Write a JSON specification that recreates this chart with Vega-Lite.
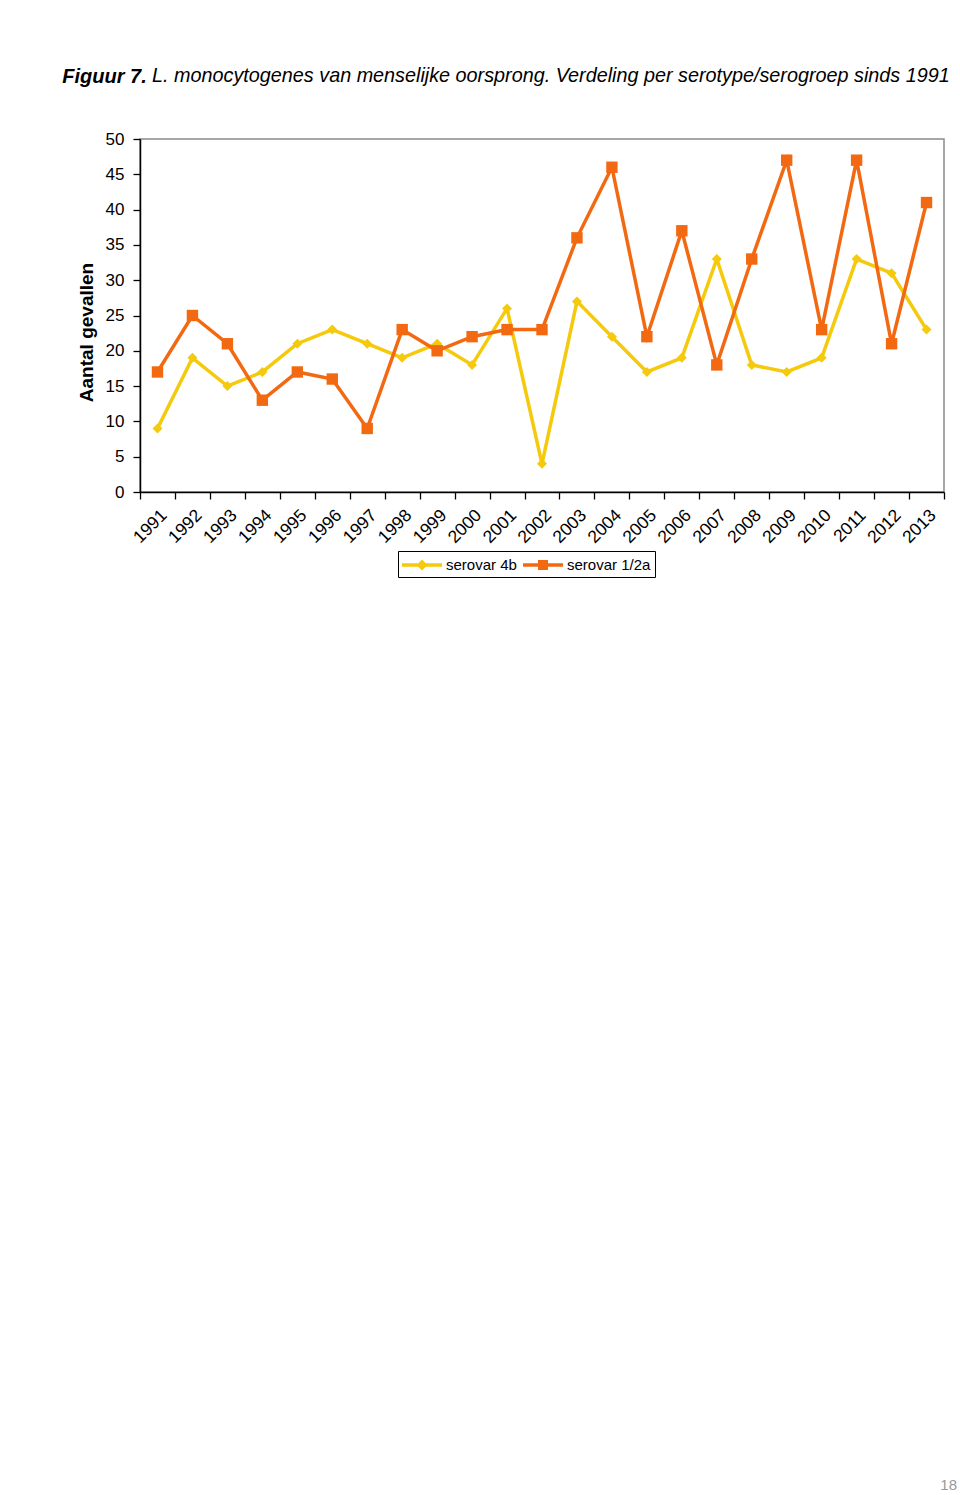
{
  "$schema": "https://vega.github.io/schema/vega-lite/v6.json",
  "background": "white",
  "padding": {"left": 62, "top": 65, "right": 0, "bottom": 0},
  "config": {
    "font": "Liberation Sans",
    "view": {"stroke": null}
  },
  "title": {
    "text": "Figuur 7.",
    "anchor": "start",
    "font": "Liberation Sans",
    "fontSize": 20,
    "fontStyle": "italic",
    "fontWeight": "bold",
    "color": "black",
    "dx": -14,
    "offset": -22
  },
  "resolve": {"scale": {"color": "independent"}, "legend": {"color": "independent"}},
  "spacing": 10,
  "vconcat": [
    {
      "width": 804,
      "height": 353,
      "view": {"stroke": "#8a8a8a", "strokeWidth": 1.5},
      "title": {
        "text": "L. monocytogenes van menselijke oorsprong. Verdeling per serotype/serogroep sinds 1991",
        "anchor": "start",
        "font": "Liberation Sans",
        "fontSize": 19.8,
        "fontStyle": "italic",
        "fontWeight": "normal",
        "color": "black",
        "dx": 75,
        "offset": 44
      },
      "data": {
        "values": [
          {"year": "1991", "series": "serovar 4b", "value": 9},
          {"year": "1992", "series": "serovar 4b", "value": 19},
          {"year": "1993", "series": "serovar 4b", "value": 15},
          {"year": "1994", "series": "serovar 4b", "value": 17},
          {"year": "1995", "series": "serovar 4b", "value": 21},
          {"year": "1996", "series": "serovar 4b", "value": 23},
          {"year": "1997", "series": "serovar 4b", "value": 21},
          {"year": "1998", "series": "serovar 4b", "value": 19},
          {"year": "1999", "series": "serovar 4b", "value": 21},
          {"year": "2000", "series": "serovar 4b", "value": 18},
          {"year": "2001", "series": "serovar 4b", "value": 26},
          {"year": "2002", "series": "serovar 4b", "value": 4},
          {"year": "2003", "series": "serovar 4b", "value": 27},
          {"year": "2004", "series": "serovar 4b", "value": 22},
          {"year": "2005", "series": "serovar 4b", "value": 17},
          {"year": "2006", "series": "serovar 4b", "value": 19},
          {"year": "2007", "series": "serovar 4b", "value": 33},
          {"year": "2008", "series": "serovar 4b", "value": 18},
          {"year": "2009", "series": "serovar 4b", "value": 17},
          {"year": "2010", "series": "serovar 4b", "value": 19},
          {"year": "2011", "series": "serovar 4b", "value": 33},
          {"year": "2012", "series": "serovar 4b", "value": 31},
          {"year": "2013", "series": "serovar 4b", "value": 23},
          {"year": "1991", "series": "serovar 1/2a", "value": 17},
          {"year": "1992", "series": "serovar 1/2a", "value": 25},
          {"year": "1993", "series": "serovar 1/2a", "value": 21},
          {"year": "1994", "series": "serovar 1/2a", "value": 13},
          {"year": "1995", "series": "serovar 1/2a", "value": 17},
          {"year": "1996", "series": "serovar 1/2a", "value": 16},
          {"year": "1997", "series": "serovar 1/2a", "value": 9},
          {"year": "1998", "series": "serovar 1/2a", "value": 23},
          {"year": "1999", "series": "serovar 1/2a", "value": 20},
          {"year": "2000", "series": "serovar 1/2a", "value": 22},
          {"year": "2001", "series": "serovar 1/2a", "value": 23},
          {"year": "2002", "series": "serovar 1/2a", "value": 23},
          {"year": "2003", "series": "serovar 1/2a", "value": 36},
          {"year": "2004", "series": "serovar 1/2a", "value": 46},
          {"year": "2005", "series": "serovar 1/2a", "value": 22},
          {"year": "2006", "series": "serovar 1/2a", "value": 37},
          {"year": "2007", "series": "serovar 1/2a", "value": 18},
          {"year": "2008", "series": "serovar 1/2a", "value": 33},
          {"year": "2009", "series": "serovar 1/2a", "value": 47},
          {"year": "2010", "series": "serovar 1/2a", "value": 23},
          {"year": "2011", "series": "serovar 1/2a", "value": 47},
          {"year": "2012", "series": "serovar 1/2a", "value": 21},
          {"year": "2013", "series": "serovar 1/2a", "value": 41}
        ]
      },
      "encoding": {
        "x": {
          "field": "year",
          "type": "ordinal",
          "title": null,
          "scale": {"type": "band", "paddingInner": 0, "paddingOuter": 0},
          "axis": {
            "tickBand": "extent",
            "labelAngle": -45,
            "labelFontSize": 17.5,
            "labelColor": "black",
            "labelPadding": 7,
            "tickSize": 7,
            "tickColor": "black",
            "tickWidth": 1.3,
            "domainColor": "black",
            "domainWidth": 1.5,
            "grid": false
          }
        },
        "y": {
          "field": "value",
          "type": "quantitative",
          "title": "Aantal gevallen",
          "scale": {"domain": [0, 50], "nice": false},
          "axis": {
            "values": [0, 5, 10, 15, 20, 25, 30, 35, 40, 45, 50],
            "labelFontSize": 17,
            "labelColor": "black",
            "labelPadding": 9,
            "tickSize": 7,
            "tickColor": "black",
            "tickWidth": 1.3,
            "domainColor": "black",
            "domainWidth": 1.5,
            "grid": false,
            "titleFontSize": 19,
            "titleFontWeight": "bold",
            "titleColor": "black",
            "titlePadding": 9,
            "titleY": 193
          }
        },
        "color": {
          "field": "series",
          "type": "nominal",
          "scale": {"domain": ["serovar 4b", "serovar 1/2a"], "range": ["#F5C90C", "#F26912"]},
          "legend": {
            "orient": "none",
            "legendX": 258,
            "legendY": 412,
            "direction": "horizontal",
            "title": null,
            "strokeColor": "black",
            "padding": 4,
            "labelFont": "Liberation Sans",
            "labelFontSize": 15,
            "labelColor": "black",
            "symbolSize": 400,
            "symbolOffset": 10,
            "symbolStrokeWidth": 0,
            "labelOffset": 14,
            "columnPadding": 6,
            "encode": {
              "symbols": {
                "update": {
                  "shape": {"signal": "datum.value === 'serovar 4b' ? 'M-2,-0.175H2V0.175H-2Z M0,-0.55L0.55,0L0,0.55L-0.55,0Z' : 'M-2,-0.175H2V0.175H-2Z M-0.5,-0.5H0.5V0.5H-0.5Z'"},
                  "fill": {"scale": "color", "field": "value"},
                  "stroke": {"value": "transparent"},
                  "strokeWidth": {"value": 0},
                  "size": {"value": 400},
                  "opacity": {"value": 1}
                }
              }
            }
          }
        }
      },
      "layer": [
        {
          "transform": [{"filter": "datum.series === 'serovar 4b'"}],
          "mark": {"type": "line", "strokeWidth": 3.5}
        },
        {
          "transform": [{"filter": "datum.series === 'serovar 4b'"}],
          "mark": {"type": "point", "shape": "diamond", "filled": true, "size": 100, "opacity": 1}
        },
        {
          "transform": [{"filter": "datum.series === 'serovar 1/2a'"}],
          "mark": {"type": "line", "strokeWidth": 3.5}
        },
        {
          "transform": [{"filter": "datum.series === 'serovar 1/2a'"}],
          "mark": {"type": "point", "shape": "square", "filled": true, "size": 130, "opacity": 1}
        }
      ]
    },
    {
      "width": 817,
      "height": 885,
      "data": {"values": []},
      "mark": {"type": "text"},
      "encoding": {},
      "title": {
        "text": "18",
        "orient": "bottom",
        "anchor": "end",
        "frame": "group",
        "align": "right",
        "font": "Liberation Sans",
        "fontSize": 15,
        "fontWeight": "normal",
        "color": "#999999"
      }
    }
  ]
}
